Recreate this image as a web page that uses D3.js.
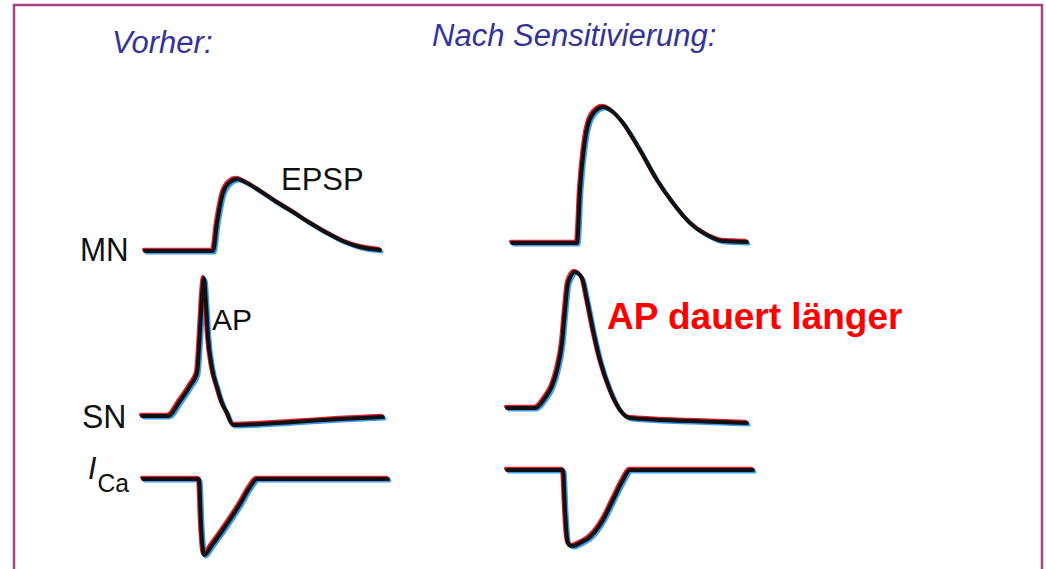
<!DOCTYPE html>
<html>
<head>
<meta charset="utf-8">
<script src="https://d3js.org/d3.v7.min.js"></script>
<style>
html, body { margin: 0; padding: 0; background: #fff; }
svg { display: block; font-family: "Liberation Sans", Arial, sans-serif; }
</style>
</head>
<body>
<svg id="chart" width="1046" height="569"></svg>
<script>
// traces: [time, amplitude], amplitude relative to resting level
var mnBefore = [[5,0],[73,0],[77,28],[83,58],[90,69],[97,72],[105,69],[120,60],[135,50],[153,39],[170,28],[187,18],[205,9],[220,4],[240,1]];
var snBefore = [[2,0],[28,0],[40,15],[50,30],[57,43],[60,85],[62,120],[64,138],[66,112],[68,79],[72,48],[77,29],[82,13],[87,3],[93,-9],[153,-6],[200,-3],[243,-1]];
var icaBefore = [[3,0],[59,0],[61,-45],[63,-72],[64,-76],[72,-66],[80,-55],[100,-25],[110,-8],[117,0],[248,0]];

var mnAfter = [[7,0],[72,0],[75,53],[80,103],[87,128],[98,136],[108,131],[118,120],[135,93],[152,63],[168,40],[185,20],[202,8],[218,2],[242,1]];
var snAfter = [[2,0],[30,0],[40,10],[47,22],[52,38],[57,65],[60,98],[63,125],[70,136],[77,130],[82,108],[88,78],[95,48],[105,18],[115,-2],[125,-10],[185,-13],[242,-15]];
var icaAfter = [[2,0],[58,0],[60,-40],[62,-68],[64,-75],[68,-76],[75,-73],[85,-67],[98,-50],[108,-30],[118,-10],[125,0],[248,0]];

var titles = ["Vorher:", "Nach Sensitivierung:"];
var rowLabels = ["MN", "SN"];

var svg = d3.select("#chart");

// slide frame
svg.append("path")
    .attr("d", "M14,580 L14,5 L1042,5 L1042,580")
    .attr("fill", "none")
    .attr("stroke", "#a5457d")
    .attr("stroke-width", 2.5);

svg.append("text").attr("x", 112).attr("y", 53).text(titles[0])
    .attr("font-size", 31).attr("font-style", "italic").attr("fill", "#333399");
svg.append("text").attr("x", 432).attr("y", 46).text(titles[1])
    .attr("font-size", 31).attr("font-style", "italic").attr("fill", "#333399");

var panels = [
    { x0: 140, base: [251, 416, 479], traces: [mnBefore, snBefore, icaBefore] },
    { x0: 505, base: [243, 408, 470], traces: [mnAfter, snAfter, icaAfter] }
];

var line = d3.line().curve(d3.curveMonotoneX);

panels.forEach(function (p) {
    var x = d3.scaleLinear().domain([0, 250]).range([p.x0, p.x0 + 250]);
    p.traces.forEach(function (data, i) {
        var y = d3.scaleLinear().domain([0, 100]).range([p.base[i], p.base[i] - 100]);
        line.x(function (d) { return x(d[0]); }).y(function (d) { return y(d[1]); });
        var g = svg.append("g")
            .attr("fill", "none").attr("stroke-linejoin", "round").attr("stroke-linecap", "round");
        // printed trace has colour fringes, blue below right and red above left
        g.append("path").attr("d", line(data)).attr("transform", "translate(1.7,1.7)")
            .attr("stroke", "#3d9cf0").attr("stroke-width", 3.6);
        g.append("path").attr("d", line(data)).attr("transform", "translate(-1.3,-1.4)")
            .attr("stroke", "#e3202c").attr("stroke-width", 3.6);
        g.append("path").attr("d", line(data))
            .attr("stroke", "#111").attr("stroke-width", 4);
    });
});

// row labels, the printed font is a little condensed
svg.append("text").attr("transform", "translate(80,261) scale(0.95,1)")
    .text(rowLabels[0]).attr("font-size", 33).attr("fill", "#111");
svg.append("text").attr("transform", "translate(82,428) scale(0.97,1)")
    .text(rowLabels[1]).attr("font-size", 33).attr("fill", "#111");
var ica = svg.append("text").attr("transform", "translate(88,479) scale(0.95,1)").attr("fill", "#111");
ica.append("tspan").text("I").attr("font-size", 32).attr("font-style", "italic");
ica.append("tspan").text("Ca").attr("font-size", 26).attr("dy", 13).attr("dx", 1);

svg.append("text").attr("x", 281).attr("y", 190).text("EPSP").attr("font-size", 31).attr("fill", "#111");
svg.append("text").attr("x", 212).attr("y", 330).text("AP").attr("font-size", 30).attr("fill", "#111");

svg.append("text").attr("x", 607).attr("y", 329).text("AP dauert länger")
    .attr("font-size", 37).attr("font-weight", "bold").attr("fill", "#ff0000");
</script>
</body>
</html>
